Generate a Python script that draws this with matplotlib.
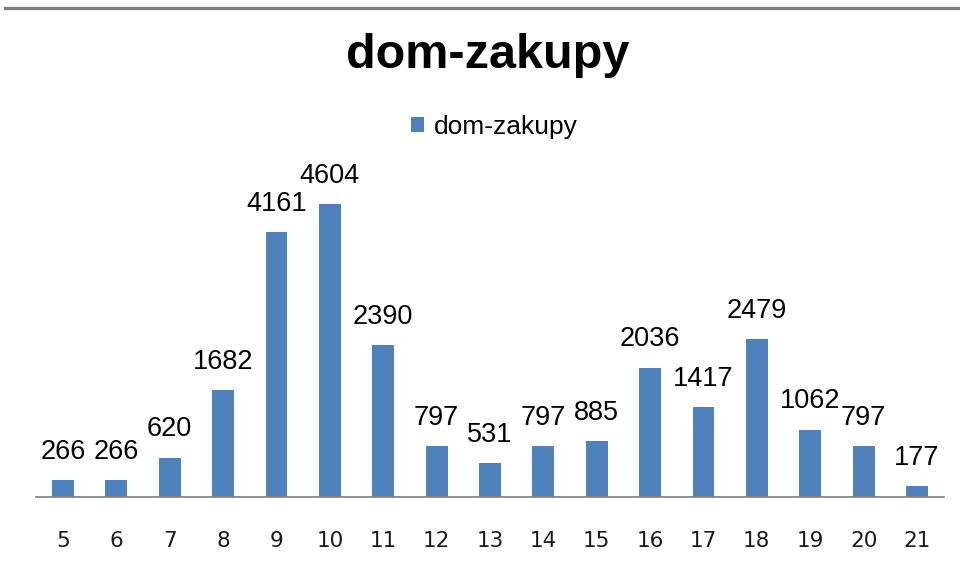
import matplotlib
matplotlib.use("Agg")
import matplotlib.pyplot as plt
from matplotlib.lines import Line2D
from matplotlib.patches import Patch

categories = ["5", "6", "7", "8", "9", "10", "11", "12", "13", "14", "15", "16", "17", "18", "19", "20", "21"]
values = [266, 266, 620, 1682, 4161, 4604, 2390, 797, 531, 797, 885, 2036, 1417, 2479, 1062, 797, 177]
series_name = "dom-zakupy"
title = "dom-zakupy"

bar_color = "#4F81BD"
axis_color = "#868686"

fig = plt.figure(figsize=(9.6, 5.76), dpi=100)
ax = fig.add_axes([0.0378, 0.137, 0.9452, 0.552])

x = list(range(len(categories)))
ax.bar(x, values, width=0.41, color=bar_color, zorder=2)

for xi, v in zip(x, values):
    ax.annotate(str(v), (xi, v), xytext=(0, 11), textcoords="offset points",
                ha="center", va="bottom", fontsize=19.5,
                family="Liberation Sans", color="black")

ax.set_xlim(-0.5, len(categories) - 0.5)
ax.set_ylim(0, 5000)
ax.set_xticks(x)
ax.set_xticklabels(categories, family="DejaVu Sans", fontsize=15.5, color="#1a1a1a")
ax.tick_params(axis="x", length=0, pad=24.5)
ax.set_yticks([])
for side in ("left", "right", "top"):
    ax.spines[side].set_visible(False)
ax.spines["bottom"].set_color(axis_color)
ax.spines["bottom"].set_linewidth(1.3)

fig.text(0.508, 0.882, title, ha="center", va="baseline", fontsize=35,
         fontweight="bold", family="Liberation Sans")

handle = Patch(facecolor=bar_color, edgecolor="none")
fig.legend([handle], [series_name], loc="center", bbox_to_anchor=(0.515, 0.779),
           frameon=False, prop={"family": "Liberation Sans", "size": 19},
           handlelength=0.5, handleheight=0.5, handletextpad=0.4)

# thin frame edge across the top of the chart area
fig.add_artist(Line2D([0.005, 1.0], [0.986, 0.986], transform=fig.transFigure,
                      color="#808080", linewidth=2.4))

fig.savefig("out.png", dpi=100)
